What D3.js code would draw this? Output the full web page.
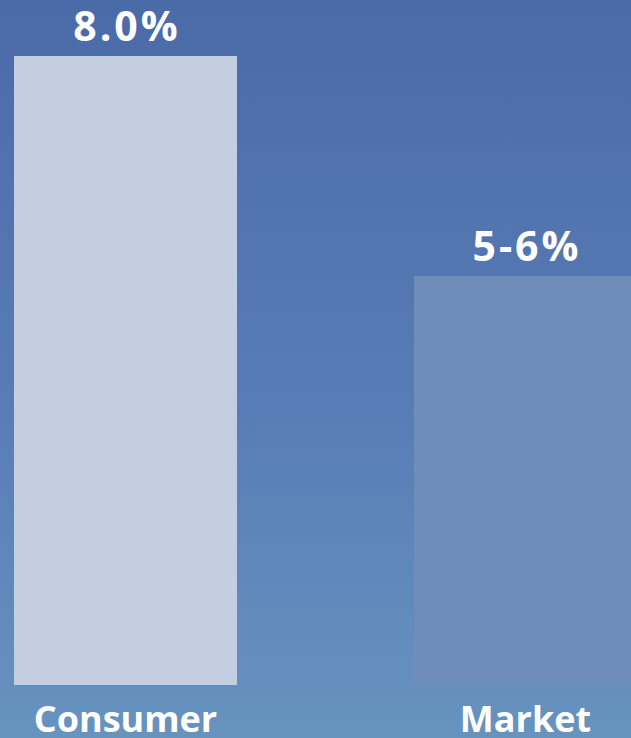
<!DOCTYPE html>
<html>
<head>
<meta charset="utf-8">
<script src="https://cdn.jsdelivr.net/npm/d3@7"></script>
<style>
html, body { margin: 0; padding: 0; overflow: hidden; }
svg { display: block; }
</style>
</head>
<body>
<svg id="chart"></svg>
<script>
var categories = ['Consumer', 'Market'];
var values = [8.0, 5.2];
var valueLabels = ['8.0%', '5-6%'];
var barColors = ['#c3cfe1', '#6e8db9'];

var W = 631, H = 738;
var svg = d3.select('#chart').attr('width', W).attr('height', H);

var defs = svg.append('defs');
var bg = defs.append('linearGradient').attr('id', 'bg')
	.attr('x1', 0).attr('y1', 0).attr('x2', 0).attr('y2', 1);
bg.append('stop').attr('offset', '0%').attr('stop-color', '#4b6aa8');
bg.append('stop').attr('offset', '55%').attr('stop-color', '#587db6');
bg.append('stop').attr('offset', '100%').attr('stop-color', '#6793bf');

svg.append('rect').attr('width', W).attr('height', H).attr('fill', 'url(#bg)');

var x = d3.scaleBand().domain(categories).range([14, 637]).paddingInner(0.4425).paddingOuter(0);
var y = d3.scaleLinear().domain([0, 8]).range([685, 56]);

svg.selectAll('rect.bar')
	.data(categories)
	.enter().append('rect')
	.attr('class', 'bar')
	.attr('x', function(d){ return x(d); })
	.attr('width', x.bandwidth())
	.attr('y', function(d, i){ return y(values[i]); })
	.attr('height', function(d, i){ return y(0) - y(values[i]); })
	.attr('fill', function(d, i){ return barColors[i]; });

svg.selectAll('text.val')
	.data(categories)
	.enter().append('text')
	.attr('class', 'val')
	.attr('x', function(d){ return x(d) + x.bandwidth() / 2 + 1.5; })
	.attr('y', function(d, i){ return y(values[i]) - 15; })
	.attr('text-anchor', 'middle')
	.attr('fill', '#fff')
	.style('font-family', '"Open Sans", sans-serif')
	.style('font-weight', 700)
	.style('font-size', '41px')
	.style('letter-spacing', '3px')
	.text(function(d, i){ return valueLabels[i]; });

svg.selectAll('text.cat')
	.data(categories)
	.enter().append('text')
	.attr('class', 'cat')
	.attr('x', function(d){ return x(d) + x.bandwidth() / 2; })
	.attr('y', 732)
	.attr('text-anchor', 'middle')
	.attr('fill', '#fff')
	.style('font-family', '"Open Sans", sans-serif')
	.style('font-weight', 700)
	.style('font-size', '36px')
	.text(function(d){ return d; });
</script>
</body>
</html>
